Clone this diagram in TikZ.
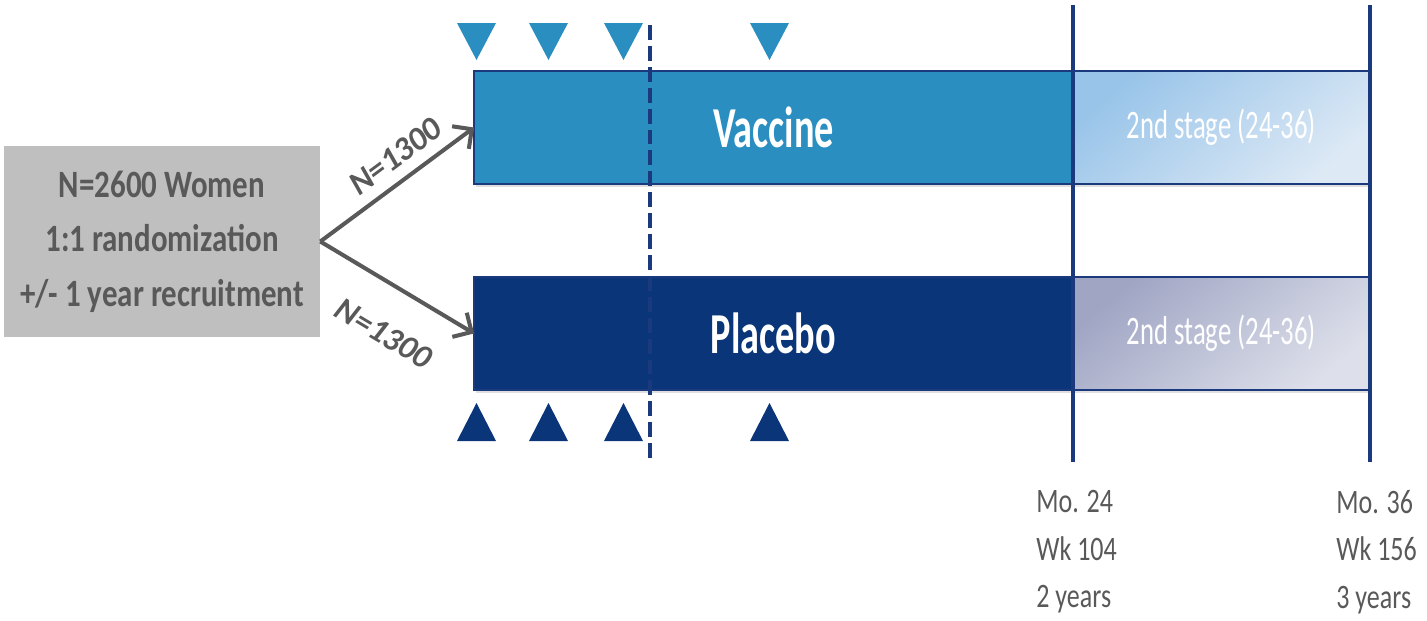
\documentclass[tikz,border=0pt]{standalone}
\usepackage{fontspec}
\setmainfont{Carlito}
\newfontfamily\slimfont[FakeStretch=0.66]{Carlito}
\newfontfamily\condfont[FakeStretch=0.8]{Carlito}
\newfontfamily\narrowfont[FakeStretch=0.76]{Carlito}
\usepackage{xcolor}
\usepackage{tikz}
\usetikzlibrary{arrows.meta,positioning,shadows}

\definecolor{vacblue}{HTML}{2A8FC0}
\definecolor{plabo}{HTML}{0A3578}
\definecolor{navyline}{HTML}{1B3A7E}
\definecolor{boxgray}{HTML}{BFBFBF}
\definecolor{textgray}{HTML}{595959}
\definecolor{vacstagetop}{HTML}{98C4E9}
\definecolor{vacstagebot}{HTML}{DDE9F5}
\definecolor{plastagetop}{HTML}{A0A5C4}
\definecolor{plastagebot}{HTML}{DDE0EA}

\begin{document}
\begin{tikzpicture}[x=0.02cm, y=-0.02cm,
    armbar/.style={draw=navyline, line width=1pt, rectangle, inner sep=0pt, outer sep=0pt,
        minimum width=11.98cm, minimum height=2.26cm, text=white,
        drop shadow={opacity=0.25, shadow xshift=1pt, shadow yshift=-1.5pt},
        font=\slimfont\bfseries\fontsize{33}{36}\selectfont},
    stagebar/.style={draw=navyline, line width=1pt, rectangle, inner sep=0pt, outer sep=0pt,
        minimum width=5.94cm, minimum height=2.26cm, text=white,
        drop shadow={opacity=0.25, shadow xshift=1pt, shadow yshift=-1.5pt},
        font=\slimfont\fontsize{23}{26}\selectfont},
    splitarrow/.style={draw=textgray, line width=2.3pt, -{Straight Barb[length=8pt, width=16pt]}},
    armlabel/.style={text=textgray, inner sep=0pt, font=\bfseries\itshape\fontsize{19}{22}\selectfont},
    timeline/.style={draw=navyline, line width=2pt},
    timelabel/.style={text=textgray, align=left, anchor=north west, inner sep=0pt,
        font=\narrowfont\fontsize{19.5}{27}\selectfont}]
    \useasboundingbox (0,0) rectangle (1427,620);

    \node[fill=boxgray, rectangle, inner sep=0pt, minimum width=6.32cm, minimum height=3.82cm,
        text=textgray, align=center, font=\condfont\bfseries\fontsize{22}{31}\selectfont]
        (randbox) at (162,241.5) {N=2600 Women\\1:1 randomization\\+/- 1 year recruitment};

    \node[armbar, fill=vacblue] (vaccine) at (773.5,127.5) {Vaccine};
    \node[stagebar, top color=vacstagetop, bottom color=vacstagebot, shading angle=40,
        right=0pt of vaccine] (vacstage) {2nd stage (24-36)};
    \node[armbar, fill=plabo, below=1.86cm of vaccine] (placebo) {Placebo};
    \node[stagebar, top color=plastagetop, bottom color=plastagebot, shading angle=40,
        right=0pt of placebo] (plastage) {2nd stage (24-36)};

    \draw[splitarrow] (randbox.east) -- node[armlabel, sloped, above=6pt, pos=0.58] {N=1300} (vaccine.west);
    \draw[splitarrow] (randbox.east) -- node[armlabel, sloped, below=19pt, pos=0.57] {N=1300} (placebo.west);

    % time points
    \draw[timeline] (1073,5) -- (1073,462);
    \draw[timeline] (1370,5) -- (1370,462);
    \draw[draw=navyline, line width=2pt, dash pattern=on 8.5pt off 3.4pt] (650,25) -- (650,464);

    \node[timelabel] (mo24) at (1036,490) {Mo. 24\\Wk 104\\2 years};
    \node[timelabel] (mo36) at (1336,490) {Mo. 36\\Wk 156\\3 years};

    % visit marks
    \fill[vacblue] (457,23) -- (496,23) -- (476.5,60) -- cycle;
    \fill[vacblue] (529,23) -- (568,23) -- (548.5,60) -- cycle;
    \fill[vacblue] (604,23) -- (643,23) -- (623.5,60) -- cycle;
    \fill[vacblue] (750,23) -- (789,23) -- (769.5,60) -- cycle;
    \fill[plabo] (457,441) -- (496,441) -- (476.5,403) -- cycle;
    \fill[plabo] (529,441) -- (568,441) -- (548.5,403) -- cycle;
    \fill[plabo] (604,441) -- (643,441) -- (623.5,403) -- cycle;
    \fill[plabo] (750,441) -- (789,441) -- (769.5,403) -- cycle;
\end{tikzpicture}
\end{document}
